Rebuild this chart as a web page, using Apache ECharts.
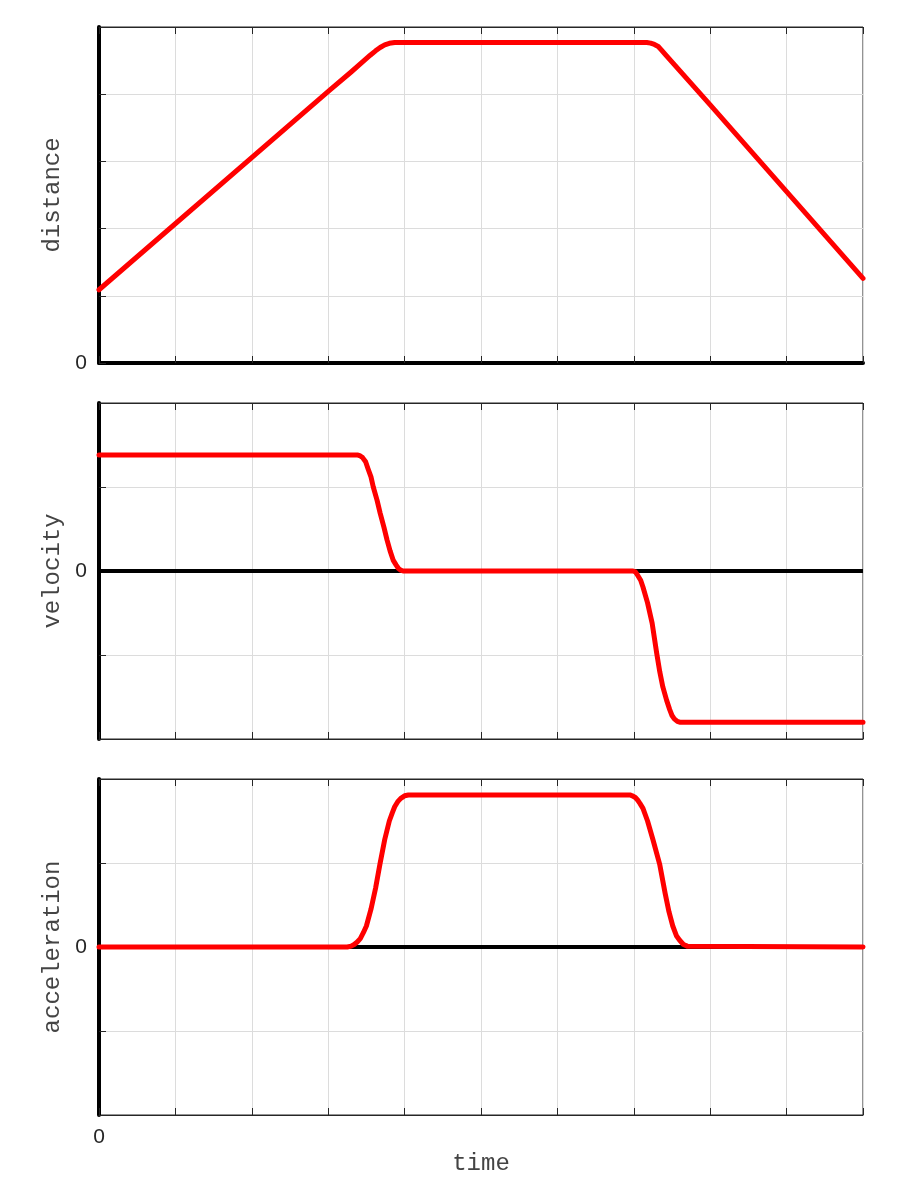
<!DOCTYPE html>
<html>
<head>
<meta charset="utf-8">
<script src="https://cdn.jsdelivr.net/npm/echarts@6/dist/echarts.min.js"></script>
<style>html,body{margin:0;padding:0;background:#fff}#c{width:900px;height:1200px}</style>
</head>
<body>
<div id="c"></div>
<script>
// ---- data ----
var distX = [0, 3.02, 3.30, 3.45, 3.55, 3.62, 3.68, 3.74, 3.80, 3.87, 7.17, 7.22, 7.27, 7.32, 7.36, 7.42, 8.0, 10];
var distY = [1.09, 4.06, 4.33, 4.48, 4.58, 4.645, 4.695, 4.735, 4.758, 4.77, 4.77, 4.76, 4.74, 4.71, 4.66, 4.58, 3.84, 1.26];

var velX = [0, 3.39, 3.42, 3.45, 3.49, 3.52, 3.56, 3.59, 3.64, 3.68, 3.73, 3.77, 3.81, 3.85, 3.89, 3.92, 3.95, 3.98, 6.99, 7.02, 7.05, 7.09, 7.12, 7.18, 7.24, 7.30, 7.34, 7.38, 7.43, 7.47, 7.50, 7.53, 7.57, 7.60, 10];
var velY = [1.38, 1.38, 1.37, 1.35, 1.30, 1.22, 1.12, 1.0, 0.84, 0.69, 0.52, 0.37, 0.24, 0.13, 0.07, 0.03, 0.01, 0, 0, -0.01, -0.05, -0.11, -0.19, -0.38, -0.62, -0.98, -1.20, -1.38, -1.54, -1.65, -1.72, -1.76, -1.79, -1.80, -1.80];

var accX = [0, 3.25, 3.30, 3.34, 3.38, 3.42, 3.46, 3.50, 3.56, 3.62, 3.68, 3.74, 3.80, 3.84, 3.87, 3.91, 3.95, 4.00, 4.05, 6.90, 6.95, 6.98, 7.02, 7.05, 7.08, 7.12, 7.18, 7.25, 7.34, 7.41, 7.46, 7.51, 7.56, 7.60, 7.65, 7.70, 10];
var accY = [0, 0, 0.01, 0.03, 0.06, 0.10, 0.17, 0.25, 0.45, 0.70, 1.0, 1.28, 1.50, 1.60, 1.67, 1.73, 1.77, 1.80, 1.81, 1.81, 1.81, 1.80, 1.78, 1.75, 1.71, 1.65, 1.50, 1.28, 0.98, 0.64, 0.42, 0.25, 0.13, 0.08, 0.03, 0.01, 0];

var zeroX = [0, 10];
var zeroY = [0, 0];

var yNames = ['distance', 'velocity', 'acceleration'];
var yRanges = [[0, 5], [-2, 2], [-2, 2]];
var xRange = [0, 10];
var xName = 'time';

// ---- chart ----
function pairs(xs, ys) { return xs.map(function (x, i) { return [x, ys[i]]; }); }
var dark = '#262626';
var gridColor = '#dcdcdc';
var monoFont = "'Courier New', 'Liberation Mono', monospace";
var sansFont = "'Liberation Sans', Arial, sans-serif";
var tops = [27, 403, 779];

var grids = [], xAxes = [], yAxes = [], series = [];
for (var i = 0; i < 3; i++) {
  grids.push({ left: 99, right: 37, top: tops[i], height: 336, show: true, borderColor: dark, borderWidth: 1, containLabel: false });
  var isLast = i === 2, isFirst = i === 0;
  xAxes.push({
    type: 'value', gridIndex: i, min: xRange[0], max: xRange[1], interval: 1, position: 'bottom',
    axisLine: { onZero: false, lineStyle: { color: isFirst ? '#000' : dark, width: isFirst ? 4 : 1 } },
    axisTick: { inside: true, length: 7, lineStyle: { color: dark, width: 1 } },
    axisLabel: { show: isLast, margin: 12, color: dark, fontSize: 21, fontFamily: sansFont,
      formatter: function (v) { return v === 0 ? '0' : ''; } },
    splitLine: { show: true, lineStyle: { color: gridColor, width: 1 } },
    name: isLast ? xName : '', nameLocation: 'middle', nameGap: 37,
    nameTextStyle: { fontFamily: monoFont, fontSize: 24, color: '#444' }
  });
  xAxes.push({
    type: 'value', gridIndex: i, min: xRange[0], max: xRange[1], interval: 1, position: 'top',
    axisLine: { onZero: false, lineStyle: { color: dark, width: 1 } },
    axisTick: { inside: true, length: 7, lineStyle: { color: dark, width: 1 } },
    axisLabel: { show: false }, splitLine: { show: false }
  });
  yAxes.push({
    type: 'value', gridIndex: i, min: yRanges[i][0], max: yRanges[i][1], interval: 1,
    axisLine: { show: true, onZero: false, lineStyle: { color: '#000', width: 4 } },
    axisTick: { show: true, inside: true, length: 7, lineStyle: { color: dark, width: 1 } },
    axisLabel: { margin: 12, color: dark, fontSize: 21, fontFamily: sansFont,
      formatter: function (v) { return v === 0 ? '0' : ''; } },
    splitLine: { show: true, lineStyle: { color: gridColor, width: 1 } },
    name: yNames[i], nameLocation: 'middle', nameGap: 34,
    nameTextStyle: { fontFamily: monoFont, fontSize: 24, color: '#444' }
  });
}

// zero lines for velocity and acceleration
[1, 2].forEach(function (g) {
  series.push({ type: 'line', xAxisIndex: g * 2, yAxisIndex: g, data: pairs(zeroX, zeroY), symbol: 'none',
    lineStyle: { color: '#000', width: 4 }, silent: true, z: 2 });
});

var curves = [[distX, distY], [velX, velY], [accX, accY]];
curves.forEach(function (c, g) {
  series.push({ type: 'line', xAxisIndex: g * 2, yAxisIndex: g, data: pairs(c[0], c[1]), symbol: 'none',
    smooth: false, lineStyle: { color: '#ff0000', width: 5, join: 'round', cap: 'round' }, z: 3 });
});

var chart = echarts.init(document.getElementById('c'), null, { renderer: 'canvas' });
chart.setOption({ animation: false, backgroundColor: '#fff', grid: grids, xAxis: xAxes, yAxis: yAxes, series: series });
</script>
</body>
</html>
